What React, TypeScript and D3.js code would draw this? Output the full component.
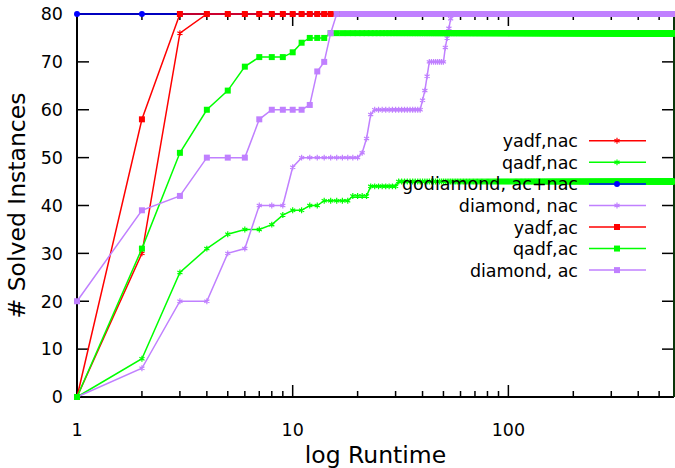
import React from 'react';
import * as d3 from 'd3';

// runtime axis ends here (seconds); counts are recorded once per second
const maxTime = 586;

// [second, solved] at each second where the count changes; it holds until the next entry
const yadfNac: [number, number][] = [[1, 0], [2, 30], [3, 76], [4, 80]];
const qadfNac: [number, number][] = [
  [1, 0], [2, 8], [3, 26], [4, 31], [5, 34], [6, 35], [8, 36], [9, 38], [10, 39],
  [12, 40], [14, 41], [19, 42], [23, 44], [31, 45],
];
const godiamond: [number, number][] = [[1, 80]];
const diamondNac: [number, number][] = [
  [1, 0], [2, 6], [3, 20], [5, 30], [6, 31], [7, 40], [10, 48], [11, 50], [21, 51],
  [22, 54], [23, 59], [24, 60], [40, 62], [41, 64], [42, 67], [43, 70], [51, 73],
  [52, 75], [53, 77], [54, 79], [55, 80],
];
const yadfAc: [number, number][] = [[1, 0], [2, 58], [3, 80]];
const qadfAc: [number, number][] = [
  [1, 0], [2, 31], [3, 51], [4, 60], [5, 64], [6, 69], [7, 71], [10, 72], [11, 74],
  [12, 75], [15, 76],
];
const diamondAc: [number, number][] = [
  [1, 20], [2, 39], [3, 42], [4, 50], [7, 58], [8, 60], [12, 61], [13, 68], [14, 70],
  [15, 76], [16, 80],
];

const seriesNames = ['yadf,nac', 'qadf,nac', 'godiamond, ac+nac', 'diamond, nac', 'yadf,ac', 'qadf,ac', 'diamond, ac'];
const seriesSteps = [yadfNac, qadfNac, godiamond, diamondNac, yadfAc, qadfAc, diamondAc];
const seriesColors = ['#ff0000', '#00ff00', '#0000ff', '#c080ff', '#ff0000', '#00ff00', '#c080ff'];
const seriesMarkers = ['star', 'star', 'circle', 'star', 'square', 'square', 'square'];

const yTicks = [0, 10, 20, 30, 40, 50, 60, 70, 80];

const W = 675;
const H = 468;
const left = 77;
const right = 674;
const top = 14;
const bottom = 397;

const x = d3.scaleLog().domain([1, maxTime]).range([left, right]);
const y = d3.scaleLinear().domain([0, 80]).range([bottom, top]);

function perSecond(steps: [number, number][]) {
  const out: [number, number][] = [];
  let i = 0;
  for (let t = steps[0][0]; t <= maxTime; t++) {
    while (i + 1 < steps.length && steps[i + 1][0] <= t) i++;
    out.push([t, steps[i][1]]);
  }
  return out;
}

const symbols: Record<string, string> = {
  star: d3.symbol(d3.symbolAsterisk, 24)() as string,
  square: d3.symbol(d3.symbolSquare, 36)() as string,
  circle: d3.symbol(d3.symbolCircle, 28)() as string,
};

function Marker({ kind, color, cx, cy }: { kind: string; color: string; cx: number; cy: number }) {
  const t = `translate(${cx},${cy})`;
  if (kind === 'star') return <path d={symbols.star} transform={t} fill="none" stroke={color} strokeWidth={1.2} />;
  return <path d={symbols[kind]} transform={t} fill={color} />;
}

export default function App() {
  const line = d3.line<[number, number]>().x(d => x(d[0])).y(d => y(d[1]));
  const xt = x.ticks();
  const font = 'DejaVu Sans, sans-serif';
  const legendY = (i: number) => 140.8 + i * 21.55;

  return (
    <svg width={W} height={H} style={{ position: 'absolute', left: 0, top: 0, background: '#fff' }} fontFamily={font}>
      {/* ticks */}
      {yTicks.map(v => (
        <g key={'y' + v}>
          <line x1={left} x2={left + 12} y1={y(v)} y2={y(v)} stroke="#000" strokeWidth={1.5} />
          <line x1={right - 12} x2={right} y1={y(v)} y2={y(v)} stroke="#000" strokeWidth={1.5} />
          <text x={63} y={y(v)} dy="0.36em" textAnchor="end" fontSize={17.5}>{v}</text>
        </g>
      ))}
      {xt.map(v => {
        const major = Math.abs(Math.log10(v) - Math.round(Math.log10(v))) < 1e-9;
        const len = major ? 12 : 6;
        return (
          <g key={'x' + v}>
            <line x1={x(v)} x2={x(v)} y1={bottom} y2={bottom - len} stroke="#000" strokeWidth={1.5} />
            <line x1={x(v)} x2={x(v)} y1={top} y2={top + len} stroke="#000" strokeWidth={1.5} />
            {major && (
              <text x={x(v)} y={436} textAnchor="middle" fontSize={17.5}>{v}</text>
            )}
          </g>
        );
      })}
      {/* border */}
      <line x1={left} x2={left} y1={top} y2={bottom} stroke="#000" strokeWidth={2} />
      <line x1={left} x2={right} y1={bottom} y2={bottom} stroke="#000" strokeWidth={2} />
      <line x1={left} x2={right} y1={top} y2={top} stroke="#000" strokeWidth={2} />
      <line x1={right} x2={right} y1={top} y2={bottom} stroke="#0a360a" strokeWidth={2} />

      {/* series */}
      {seriesSteps.map((steps, si) => {
        const pts = perSecond(steps);
        const c = seriesColors[si];
        return (
          <g key={'s' + si}>
            <path d={line(pts) as string} fill="none" stroke={c} strokeWidth={1.5} />
            {pts.map((p, k) => (
              <Marker key={k} kind={seriesMarkers[si]} color={c} cx={x(p[0])} cy={y(p[1])} />
            ))}
          </g>
        );
      })}

      {/* legend */}
      {seriesNames.map((n, i) => (
        <g key={'l' + i}>
          <text x={578} y={legendY(i) + 6.5} textAnchor="end" fontSize={17.5}>{n}</text>
          <line x1={589} x2={646} y1={legendY(i)} y2={legendY(i)} stroke={seriesColors[i]} strokeWidth={1.5} />
          <Marker kind={seriesMarkers[i]} color={seriesColors[i]} cx={617} cy={legendY(i)} />
        </g>
      ))}

      {/* axis labels */}
      <text x={(left + right) / 2} y={463} textAnchor="middle" fontSize={23.5}>log Runtime</text>
      <text transform={`translate(25,${(top + bottom) / 2}) rotate(-90)`} textAnchor="middle" fontSize={23.5}># Solved Instances</text>
    </svg>
  );
}
